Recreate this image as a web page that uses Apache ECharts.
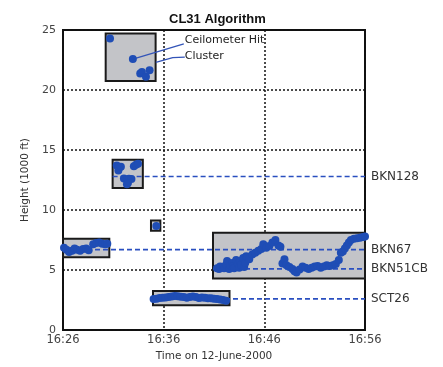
<!DOCTYPE html>
<html>
<head>
<meta charset="utf-8">
<script src="https://cdn.jsdelivr.net/npm/echarts@6/dist/echarts.min.js"></script>
<style>html,body{margin:0;padding:0;background:#fff}#c{width:443px;height:367px}</style>
</head>
<body>
<div id="c"></div>
<script>
// ---- data (x = minutes after 16:26, y = height in 1000 ft) ----
const timeTicks = ['16:26', '16:36', '16:46', '16:56'];
const yMax = 25;

const hitsTop = [[4.67,24.3],[6.94,22.58],[7.67,21.37],[7.84,21.51],[8.24,21.11],[8.6,21.64]];
const hitsBkn128 = [[5.34,13.72],[5.55,13.5],[5.5,13.3],[5.75,13.6],[7.04,13.65],[7.25,13.78],[7.45,13.85],
  [6.05,12.62],[6.35,12.55],[6.55,12.6],[6.8,12.58],[6.45,12.25],[6.35,12.15]];
const hitsSmall = [[9.27,8.68]];
const hitsLeft = [[0.1,6.85],[0.35,6.7],[0.6,6.5],[0.9,6.6],[1.15,6.8],[1.4,6.7],[1.7,6.6],[2.0,6.75],
  [2.3,6.8],[2.55,6.65],[3.0,7.15],[3.3,7.25],[3.6,7.3],[3.9,7.2],[4.2,7.15],[4.4,7.2]];
const hitsSct = [[9.0,2.6],[9.3,2.62],[9.6,2.68],[9.9,2.7],[10.2,2.72],[10.5,2.75],[10.8,2.8],[11.1,2.85],
  [11.4,2.82],[11.7,2.78],[12.0,2.75],[12.3,2.7],[12.6,2.75],[12.9,2.8],[13.2,2.75],[13.5,2.68],[13.8,2.72],
  [14.1,2.7],[14.4,2.65],[14.7,2.65],[15.0,2.62],[15.3,2.6],[15.6,2.55],[15.9,2.5],[16.2,2.45]];
const hitsBigRise = [[15.3,5.15],[15.5,5.1],[15.6,5.3],[15.9,5.25],[16.0,5.15],[16.2,5.45],[16.3,5.75],
  [16.5,5.1],[16.6,5.4],[16.8,5.6],[16.9,5.35],[17.0,5.15],[17.2,5.85],[17.4,5.5],[17.5,5.2],[17.6,5.75],
  [17.7,5.4],[17.9,6.0],[18.0,5.25],[18.1,5.6],[18.2,6.15],[18.3,6.1],[18.5,5.9],[18.8,6.3],[19.1,6.45],
  [19.4,6.6],[19.7,6.75],[19.9,7.15],[20.2,6.85],[20.5,7.0],[20.8,7.3],[21.1,7.5],[21.4,7.05],[21.6,6.95]];
const hitsBigFall = [[21.8,5.55],[22.0,5.9],[22.2,5.4],[22.5,5.25],[22.8,5.1],[23.0,4.9],[23.2,4.8],
  [23.5,5.05],[23.8,5.3],[24.1,5.2],[24.4,5.1],[24.7,5.2],[25.0,5.3],[25.3,5.35],[25.6,5.2],[25.9,5.3],
  [26.2,5.4],[26.5,5.35],[26.8,5.4],[27.1,5.5],[27.4,5.85],[27.6,6.45],[27.8,6.55],[28.0,6.8],[28.2,7.05],
  [28.4,7.3],[28.6,7.5],[28.9,7.6],[29.2,7.65],[29.5,7.7],[29.8,7.75],[30.0,7.8]];

// cluster boxes: [xStart, xEnd, yLow, yHigh]
const clusterBoxes = [[4.24,9.2,20.75,24.7],[4.93,7.93,11.83,14.2],[8.74,9.67,8.28,9.14],
  [0,4.6,6.07,7.6],[8.94,16.54,2.07,3.25],[14.9,30,4.3,8.12]];

// cloud layers
const layerNames = ['BKN128', 'BKN67', 'BKN51CB', 'SCT26'];
const layerHeights = [12.8, 6.7, 5.1, 2.6];
const layerStarts = [4.93, 0, 14.9, 8.94];

// annotations
const annoTexts = ['Ceilometer Hit', 'Cluster'];
const annoTextAnchors = [[12.1, 24.15], [12.1, 22.85]];
const leaderHit = [[6.94, 22.58], [12.0, 23.85]];
const leaderCluster = [[9.22, 22.31], [10.9, 22.7], [12.1, 22.74]];

// ---- chart ----
const allHits = [].concat(hitsTop, hitsBkn128, hitsSmall, hitsLeft, hitsSct, hitsBigRise, hitsBigFall);
const layerData = layerNames.map((n, i) => [layerStarts[i], 30, layerHeights[i], i]);
const annoData = annoTexts.map((t, i) => [annoTextAnchors[i][0], annoTextAnchors[i][1], i]);

const chart = echarts.init(document.getElementById('c'), null, {renderer: 'canvas'});
const labelFont = 'DejaVu Sans';
chart.setOption({
  animation: false,
  backgroundColor: '#fff',
  title: {
    text: 'CL31 Algorithm', left: 164, top: 8,
    textStyle: {fontFamily: 'Liberation Sans', fontWeight: 'bold', fontSize: 13, color: '#111'}
  },
  grid: {left: 63, right: 78, top: 30, bottom: 27, show: true, borderColor: '#111', borderWidth: 2, backgroundColor: '#fff'},
  xAxis: {
    type: 'value', min: 0, max: 30, interval: 10,
    name: 'Time on 12-June-2000', nameLocation: 'middle', nameGap: 17,
    nameTextStyle: {fontFamily: labelFont, fontSize: 10.5, color: '#333'},
    axisLine: {show: false}, axisTick: {show: false},
    axisLabel: {formatter: v => timeTicks[Math.round(v / 10)], fontFamily: labelFont, fontSize: 11.5, color: '#444', margin: 4},
    splitLine: {show: true, lineStyle: {color: '#111', width: 1.5, type: [2, 2]}}
  },
  yAxis: {
    type: 'value', min: 0, max: yMax, interval: 5,
    name: 'Height (1000 ft)', nameLocation: 'middle', nameGap: 30, nameRotate: 90,
    nameTextStyle: {fontFamily: labelFont, fontSize: 10.5, color: '#333'},
    axisLine: {show: false}, axisTick: {show: false},
    axisLabel: {fontFamily: labelFont, fontSize: 11, color: '#444', margin: 7},
    splitLine: {show: true, lineStyle: {color: '#111', width: 1.5, type: [2, 2]}}
  },
  series: [
    {
      type: 'custom', name: 'clusters', z: 1, clip: false,
      data: clusterBoxes,
      encode: {x: [0, 1], y: [2, 3]},
      renderItem: function (params, api) {
        const p0 = api.coord([api.value(0), api.value(3)]);
        const p1 = api.coord([api.value(1), api.value(2)]);
        return {type: 'rect', shape: {x: p0[0], y: p0[1], width: p1[0] - p0[0], height: p1[1] - p0[1]},
          style: {fill: '#c3c4c8', stroke: '#1a1a1a', lineWidth: 2}};
      }
    },
    {
      type: 'custom', name: 'layers', z: 3, clip: false,
      data: layerData,
      encode: {x: [0, 1], y: 2},
      renderItem: function (params, api) {
        const a = api.coord([api.value(0), api.value(2)]);
        const b = api.coord([api.value(1), api.value(2)]);
        return {type: 'group', children: [
          {type: 'line', shape: {x1: a[0], y1: a[1], x2: b[0], y2: b[1]},
            style: {stroke: '#2a4fc0', lineWidth: 1.6, lineDash: [5, 3]}},
          {type: 'text', x: b[0] + 6, y: b[1],
            style: {text: layerNames[api.value(3)], fill: '#333', font: '12px "DejaVu Sans"', textAlign: 'left', textVerticalAlign: 'middle'}}
        ]};
      }
    },
    {
      type: 'line', name: 'leaderHit', z: 3, data: leaderHit, showSymbol: false, symbol: 'none',
      lineStyle: {color: '#3354b8', width: 1.3}, silent: true
    },
    {
      type: 'line', name: 'leaderCluster', z: 3, data: leaderCluster, showSymbol: false, symbol: 'none',
      lineStyle: {color: '#3354b8', width: 1.3}, silent: true
    },
    {
      type: 'custom', name: 'annotations', z: 4, clip: false,
      data: annoData,
      renderItem: function (params, api) {
        const p = api.coord([api.value(0), api.value(1)]);
        return {type: 'text', x: p[0], y: p[1],
          style: {text: annoTexts[api.value(2)], fill: '#222', font: '11px "DejaVu Sans"', textAlign: 'left', textVerticalAlign: 'middle'}};
      }
    },
    {
      type: 'scatter', name: 'Ceilometer Hit', z: 5, data: allHits,
      symbolSize: 8, itemStyle: {color: '#1f4db5', opacity: 1}, clip: false
    }
  ]
});
</script>
</body>
</html>
